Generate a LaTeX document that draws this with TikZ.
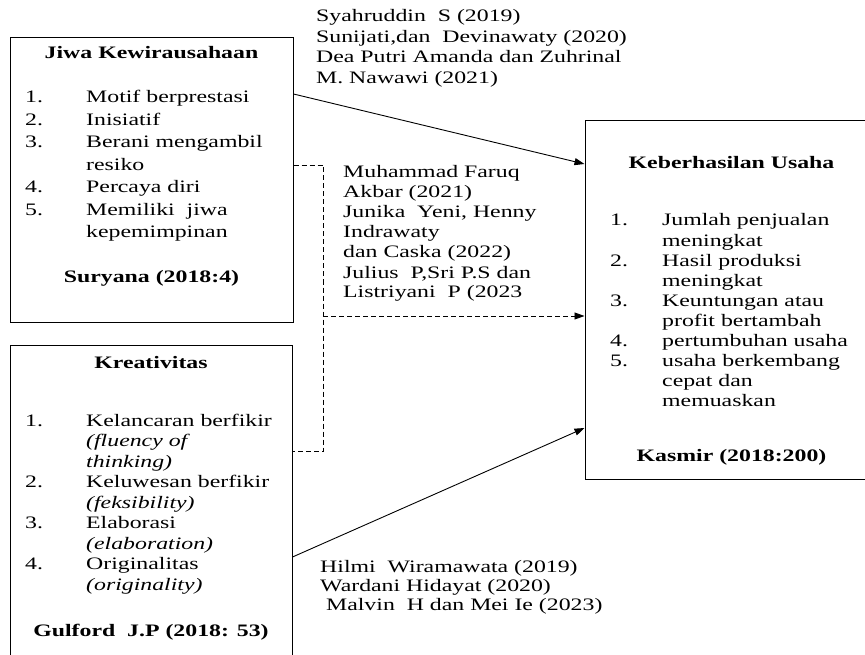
\documentclass[tikz,border=0pt]{standalone}
\usepackage{fontspec}
\setmainfont[FakeStretch=1.36]{Liberation Serif}
\usetikzlibrary{arrows.meta,positioning,calc}
\tikzset{
  varbox/.style={draw, line width=1pt, inner sep=0pt},
  txt/.style={anchor=base west, inner sep=0pt, font=\fontsize{17.5}{20}\selectfont},
  ttl/.style={anchor=base, inner sep=0pt, font=\fontsize{17.5}{20}\selectfont\bfseries},
  link/.style={line width=0.9pt, -{Triangle[length=10pt,width=7pt]}},
  dline/.style={line width=0.9pt, dash pattern=on 5pt off 3pt},
}

\begin{document}
\begin{tikzpicture}[x=1pt,y=-1pt]
  \useasboundingbox (0,0) rectangle (865,655);
  \clip (0,0) rectangle (865,655);
  % Variable boxes
  \node[varbox, minimum width=283pt, minimum height=284pt] (jiwa) at (151.5,180) {};
  \node[varbox, minimum width=282pt, minimum height=325pt] (kreatif) at (151,507.5) {};
  \node[varbox, minimum width=293pt, minimum height=358pt] (hasil) at (731.5,300) {};
  % Jiwa Kewirausahaan
  \node[ttl] (jiwattl) at (151.5,59) {Jiwa Kewirausahaan};
  \foreach \n/\t [count=\i] in {1./Motif berprestasi, 2./Inisiatif, 3./Berani mengambil, /resiko, 4./Percaya diri, 5./Memiliki\ \ jiwa, /kepemimpinan} {
    \node[txt] (jn\i) at (25,{103+(\i-1)*22.5}) {\n};
    \node[txt] (jt\i) at (86,{103+(\i-1)*22.5}) {\t};
  }
  \node[ttl] (jiwasrc) at (151.5,283) {Suryana (2018:4)};
  % Kreativitas
  \node[ttl] (kreatifttl) at (151,368) {Kreativitas};
  \foreach \n/\t [count=\i] in {1./Kelancaran berfikir, /\textit{(fluency of}, /\textit{thinking)}, 2./Keluwesan berfikir, /\textit{(feksibility)}, 3./Elaborasi, /\textit{(elaboration)}, 4./Originalitas, /\textit{(originality)}} {
    \node[txt] (kn\i) at (25,{426+(\i-1)*20.5}) {\n};
    \node[txt] (kt\i) at (86,{426+(\i-1)*20.5}) {\t};
  }
  \node[ttl] (kreatifsrc) at (151,636) {Gulford\ \ J.P (2018: 53)};
  % Keberhasilan Usaha
  \node[ttl] (hasilttl) at (731.5,169) {Keberhasilan Usaha};
  \foreach \n/\t [count=\i] in {1./Jumlah penjualan, /meningkat, 2./Hasil produksi, /meningkat, 3./Keuntungan atau, /profit bertambah, 4./pertumbuhan usaha, 5./usaha berkembang, /cepat dan, /memuaskan} {
    \node[txt] (hn\i) at (610,{226+(\i-1)*20.1}) {\n};
    \node[txt] (ht\i) at (662,{226+(\i-1)*20.1}) {\t};
  }
  \node[ttl] (hasilsrc) at (731.5,461) {Kasmir (2018:200)};
  % References
  \foreach \t [count=\i] in {Syahruddin\ \ S (2019), {Sunijati,dan\ \ Devinawaty (2020)}, Dea Putri Amanda dan Zuhrinal, M. Nawawi (2021)}
    \node[txt] (reftop\i) at (316,{22+(\i-1)*20.5}) {\t};
  \foreach \t [count=\i] in {Muhammad Faruq, Akbar (2021), {Junika\ \ Yeni, Henny}, Indrawaty, dan Caska (2022), {Julius\ \ P,Sri P.S dan}, Listriyani\ \ P (2023}
    \node[txt] (refmid\i) at (343,{178+(\i-1)*20}) {\t};
  \foreach \t [count=\i] in {Hilmi\ \ Wiramawata (2019), Wardani Hidayat (2020), \ Malvin\ \ H dan Mei Ie (2023)}
    \node[txt] (refbot\i) at (320,{572+(\i-1)*19}) {\t};
  % Connectors
  \coordinate (dtop) at (323,165);
  \coordinate (dmid) at (323,316);
  \coordinate (dbot) at (323,451);
  \draw[link] (jiwa.east |- 0,94) -- (hasil.west |- 0,164);
  \draw[dline] (jiwa.east |- dtop) -- (dtop) -- (dbot) -- (kreatif.east |- dbot);
  \draw[dline, -{Triangle[length=10pt,width=7pt]}] (dmid) -- (hasil.west |- dmid);
  \draw[link] (kreatif.east |- 0,557) -- (hasil.west |- 0,428);
\end{tikzpicture}
\end{document}
